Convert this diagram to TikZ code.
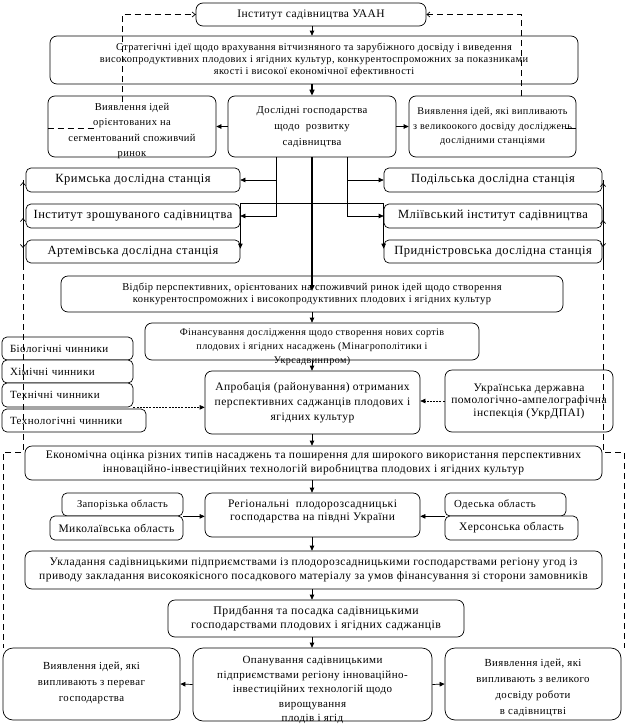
\documentclass[tikz,border=0pt]{standalone}
\usepackage{fontspec}
\setmainfont{Liberation Serif}[LetterSpace=4]
\usetikzlibrary{arrows.meta}
\newcommand\fsz[2]{\fontsize{#1}{#2}\selectfont}
\begin{document}
\begin{tikzpicture}[x=1pt,y=-1pt,
  box/.style={draw, line width=0.7pt, rounded corners=7pt, fill=white, inner sep=1pt, align=center, font={\fsz{11.5}{13.5}}},
  sbox/.style={box, rounded corners=5pt, font={\fsz{12.5}{14}}},
  fbox/.style={box, rounded corners=5pt, font={\fsz{11}{13}}, align=left, text width=#1},
  txt/.style={inner sep=0pt, align=center, font={\fsz{11.5}{13.5}}},
  arr/.style={line width=0.7pt, -{Triangle[length=5pt,width=4.5pt]}},
  sarr/.style={line width=1.4pt, -{Triangle[length=6pt,width=5pt]}},
  dline/.style={line width=0.7pt, dash pattern=on 6pt off 4pt},
  barb/.style={line width=0.7pt, -{Straight Barb[length=3pt,width=5pt]}},
  darr/.style={line width=0.7pt, dash pattern=on 2pt off 1.2pt, -{Triangle[length=5pt,width=4.5pt]}},
]
\useasboundingbox (0,0) rectangle (629,726);
\coordinate (sp) at (312,0);
% top
\node[box, minimum width=230pt, minimum height=23pt] (b1) at (311,14.5) {Інститут садівництва УААН};
\node[box, minimum width=528pt, minimum height=48pt, font={\fsz{10.4}{12}}] (b2) at (314,60) {Стратегічні ідеї щодо врахування вітчизняного та зарубіжного досвіду і виведення\\ високопродуктивних плодових і ягідних культур, конкурентоспроможних за показниками\\ якості і високої економічної ефективності};
% row 3
\node[box, minimum width=168pt, minimum height=61pt] (r3l) at (132,126.5) {};
\node[txt, font={\fsz{10.5}{15.5}}] (r3lt) at (132,131) {Виявлення ідей\\ орієнтованих на\\ сегментований споживчий\\ ринок};
\node[box, minimum width=168pt, minimum height=61pt, font={\fsz{10.7}{16}}] (r3c) at (312,126.5) {Дослідні господарства\\ щодо\ \ розвитку\\ садівництва};
\node[box, minimum width=167pt, minimum height=61pt] (r3r) at (492.5,126.5) {};
\node[txt, font={\fsz{10.2}{14.5}}] (r3rt) at (492.5,126.5) {Виявлення ідей, які випливають\\ з великоокого досвіду досліджень\\ дослідними станціями};
% stations
\node[sbox, minimum width=214pt, minimum height=24pt] (sKr) at (133,180) {Кримська дослідна станція};
\node[sbox, minimum width=214pt, minimum height=24pt] (sIz) at (133,216) {Інститут зрошуваного садівництва};
\node[sbox, minimum width=214pt, minimum height=23pt] (sAr) at (133,251.5) {Артемівська дослідна станція};
\node[sbox, minimum width=218pt, minimum height=24pt] (sPo) at (493,180) {Подільська дослідна станція};
\node[sbox, minimum width=218pt, minimum height=24pt] (sMl) at (493,216) {Мліївський інститут садівництва};
\node[sbox, minimum width=218pt, minimum height=23pt] (sPr) at (493,251.5) {Придністровська дослідна станція};
% middle
\node[box, minimum width=502pt, minimum height=36pt, font={\fsz{10.5}{12.5}}] (vid) at (312,294) {Відбір перспективних, орієнтованих на споживчий ринок ідей щодо створення\\ конкурентоспроможних і високопродуктивних плодових і ягідних культур};
\node[box, minimum width=334pt, minimum height=37pt] (fin) at (312,341.5) {};
\node[txt, font={\fsz{10.1}{14}}] (fint) at (312,347.5) {Фінансування дослідження щодо створення нових сортів\\ плодових і ягідних насаджень (Мінагрополітики і\\ Укрсадвинпром)};
\node[fbox=115pt, minimum width=131pt, minimum height=23pt] (fBi) at (67.5,348.5) {Біологічні чинники};
\node[fbox=115pt, minimum width=131pt, minimum height=23pt] (fXi) at (67.5,371.5) {Хімічні чинники};
\node[fbox=115pt, minimum width=131pt, minimum height=24pt] (fTe) at (67.5,395) {Технічні чинники};
\node[fbox=128pt, minimum width=144pt, minimum height=23pt] (fTl) at (74,420.5) {Технологічні чинники};
\node[box, minimum width=215pt, minimum height=63pt, font={\fsz{11.5}{15}}] (apr) at (312.5,402.5) {Апробація (районування) отриманих\\ перспективних саджанців плодових і\\ ягідних культур};
\node[box, minimum width=168pt, minimum height=62pt, font={\fsz{11.5}{12.5}}] (ukr) at (529,401) {Українська державна\\ помологічно-ампелографічна\\ інспекція (УкрДПАІ)};
\node[box, minimum width=577pt, minimum height=34pt] (eco) at (313.5,463) {Економічна оцінка різних типів насаджень та поширення для широкого використання перспективних\\ інноваційно-інвестиційних технологій виробництва плодових і ягідних культур};
% regional row
\node[box, rounded corners=5pt, minimum width=121pt, minimum height=23pt, font={\fsz{10.5}{13}}] (zap) at (122.5,504.5) {Запорізька область};
\node[box, rounded corners=5pt, minimum width=133pt, minimum height=24pt] (myk) at (116.5,528) {Миколаївська область};
\node[box, minimum width=215pt, minimum height=44pt] (reg) at (312.5,515) {};
\node[txt] (regt) at (312.5,511.5) {Регіональні\ \ плодорозсадницькі\\ господарства на півдні України};
\node[box, rounded corners=5pt, minimum width=121pt, minimum height=23pt, align=left, text width=103pt, font={\fsz{10.8}{13}}] (ode) at (505.5,504.5) {Одеська область};
\node[box, rounded corners=5pt, minimum width=133pt, minimum height=24pt] (khe) at (511.5,528) {Херсонська область};
\node[box, minimum width=577pt, minimum height=38pt] (ukl) at (313.5,570) {Укладання садівницькими підприємствами із плодорозсадницькими господарствами регіону угод із\\ приводу закладання високоякісного посадкового матеріалу за умов фінансування зі сторони замовників};
\node[box, minimum width=296pt, minimum height=37pt, font={\fsz{11.8}{13.5}}] (pry) at (316,618.5) {Придбання та посадка садівницькими\\ господарствами плодових і ягідних саджанців};
% bottom
\node[box, rounded corners=10pt, minimum width=177pt, minimum height=72pt] (bl) at (91.5,684) {};
\node[txt, font={\fsz{10.8}{16}}] (blt) at (91.5,683) {Виявлення ідей, які\\ випливають з переваг\\ господарства};
\node[box, rounded corners=10pt, minimum width=239pt, minimum height=73pt] (bc) at (312.5,684.5) {};
\node[txt, font={\fsz{11}{14.5}}] (bct) at (312.5,690) {Опанування садівницькими\\ підприємствами регіону інноваційно-\\ інвестиційних технологій щодо\\ вирощування\\ плодів і ягід};
\node[box, rounded corners=10pt, minimum width=176pt, minimum height=72pt] (br) at (533,684) {};
\node[txt, font={\fsz{10.8}{16}}] (brt) at (533,688) {Виявлення ідей, які\\ випливають з великого\\ досвіду роботи\\ в садівництві};
% spine
\draw[arr] (sp |- b1.south) -- (sp |- b2.north);
\draw[sarr] (sp |- b2.south) -- (sp |- r3c.north);
\path ([yshift=3pt]vid.center) coordinate (vidin);
\draw[sarr] (sp |- r3c.south) -- (sp |- vidin);
\draw[arr] (sp |- vid.south) -- (sp |- fin.north);
\draw[arr] (sp |- fin.south) -- (sp |- apr.north);
\draw[arr] (sp |- apr.south) -- (sp |- eco.north);
\draw[arr] (sp |- eco.south) -- (sp |- reg.north);
\draw[arr] (sp |- reg.south) -- (sp |- ukl.north);
\draw[arr] (sp |- ukl.south) -- (sp |- pry.north);
\draw[arr] (sp |- pry.south) -- (sp |- bc.north);
% row 3 sides
\draw[arr] (r3c.west) -- (r3l.east);
\draw[arr] (r3c.east) -- (r3r.west);
% stations
\coordinate (lv) at (276,0);
\coordinate (rv) at (347,0);
\draw[arr] (lv |- r3c.south) |- (sKr.east);
\draw[arr] (lv |- sKr.east) |- (sIz.east);
\draw[arr] (rv |- r3c.south) |- (sPo.west);
\draw[arr] (rv |- sPo.west) |- (sMl.west);
\draw[arr] (sMl.north west) -- (sIz.north east) -- ([yshift=-9pt]sAr.north east);
\draw[arr] (sIz.north east) -- (sMl.north west) -- ([yshift=-9pt]sPr.north west);
% factors and inspection
\draw[darr] (fTe.south east) -- (fTe.south east -| apr.west);
\draw[darr] (ukr.west) -- (ukr.west -| apr.east);
% regional
\draw[arr] (zap.south east) -- (zap.south east -| reg.west);
\draw[arr] (ode.south west) -- (ode.south west -| reg.east);
% bottom
\draw[arr] (bc.west) -- (bl.east);
\draw[arr] (bc.east) -- (br.west);
% dashed feedback lines
\draw[dline, -{Straight Barb[length=3pt,width=5pt]}] (122,102) -- (122,14.5) -- (b1.west);
\draw[dline, -{Straight Barb[length=3pt,width=5pt]}] (521,96) -- (521,14.5) -- (b1.east);
\draw[dline] (r3l.west |- 0,128) -- (95,128);
\draw[line width=0.7pt] (566,128) -- (r3r.east |- 0,128);
\draw[line width=0.7pt] (23,180) -- (23,264);
\draw[line width=0.7pt] (603,180) -- (603,264);
\draw[barb] (23,190) -- (23,182);
\draw[barb] (23,226) -- (23,218);
\draw[barb] (23,240) -- (23,248);
\draw[barb] (603,191) -- (603,183);
\draw[barb] (603,228) -- (603,220);
\draw[barb] (603,239) -- (603,247);
\draw[dline] (23,264) -- (23,452) -- (3,452) -- (bl.north west -| 3,0);
\draw[dline] (603,264) -- (603,452) -- (624,452) -- (br.north east -| 624,0);
\end{tikzpicture}
\end{document}
